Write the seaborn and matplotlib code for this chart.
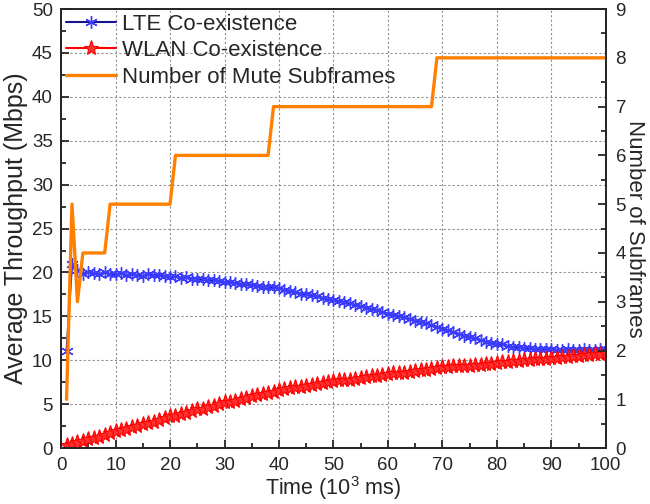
import numpy as np
import pandas as pd
import matplotlib
matplotlib.use("Agg")
import matplotlib.pyplot as plt
import seaborn as sns
from matplotlib.ticker import MultipleLocator

# Time axis (10^3 ms)
time = list(range(1, 101))

# Average throughput, LTE (Mbps)
lte = [11.0, 21.0, 20.3, 19.8, 20.1, 19.9, 19.8, 20.0, 19.8, 19.8,
       19.9, 19.7, 19.8, 19.7, 19.6, 19.8, 19.7, 19.7, 19.6, 19.5,
       19.6, 19.4, 19.5, 19.3, 19.3, 19.2, 19.1, 19.1, 19.0, 18.9,
       18.9, 18.8, 18.7, 18.7, 18.6, 18.5, 18.4, 18.4, 18.3, 18.2,
       18.0, 17.9, 17.8, 17.6, 17.5, 17.4, 17.3, 17.1, 17.0, 16.9,
       16.7, 16.6, 16.5, 16.3, 16.2, 16.0, 15.8, 15.7, 15.5, 15.3,
       15.2, 15.0, 14.9, 14.7, 14.5, 14.4, 14.2, 14.0, 13.8, 13.6,
       13.4, 13.2, 13.0, 12.8, 12.7, 12.5, 12.3, 12.1, 12.0, 11.9,
       11.8, 11.6, 11.5, 11.5, 11.4, 11.4, 11.3, 11.3, 11.3, 11.3,
       11.2, 11.2, 11.3, 11.2, 11.2, 11.3, 11.2, 11.2, 11.3, 11.3]

# Average throughput, WLAN (Mbps)
wlan = [0.3, 0.5, 0.7, 0.8, 1.0, 1.2, 1.3, 1.5, 1.7, 1.9,
        2.0, 2.2, 2.4, 2.5, 2.7, 2.9, 3.0, 3.2, 3.4, 3.6,
        3.7, 3.9, 4.0, 4.2, 4.4, 4.5, 4.7, 4.8, 5.0, 5.2,
        5.3, 5.4, 5.6, 5.7, 5.9, 6.0, 6.1, 6.3, 6.4, 6.6,
        6.7, 6.8, 6.9, 7.0, 7.1, 7.2, 7.3, 7.4, 7.5, 7.6,
        7.7, 7.8, 7.8, 7.9, 8.0, 8.1, 8.2, 8.2, 8.3, 8.4,
        8.5, 8.6, 8.6, 8.7, 8.8, 8.9, 8.9, 9.0, 9.1, 9.2,
        9.2, 9.3, 9.3, 9.4, 9.4, 9.5, 9.5, 9.6, 9.6, 9.7,
        9.8, 9.8, 9.9, 9.9, 10.0, 10.0, 10.1, 10.1, 10.2, 10.3,
        10.3, 10.4, 10.4, 10.5, 10.5, 10.6, 10.6, 10.7, 10.7, 10.8]

# Number of mute subframes
mute = [1, 5, 3, 4, 4, 4, 4, 4, 5, 5,
        5, 5, 5, 5, 5, 5, 5, 5, 5, 5,
        6, 6, 6, 6, 6, 6, 6, 6, 6, 6,
        6, 6, 6, 6, 6, 6, 6, 6, 7, 7,
        7, 7, 7, 7, 7, 7, 7, 7, 7, 7,
        7, 7, 7, 7, 7, 7, 7, 7, 7, 7,
        7, 7, 7, 7, 7, 7, 7, 7, 8, 8,
        8, 8, 8, 8, 8, 8, 8, 8, 8, 8,
        8, 8, 8, 8, 8, 8, 8, 8, 8, 8,
        8, 8, 8, 8, 8, 8, 8, 8, 8, 8]

df = pd.DataFrame({"time": time, "lte": lte, "wlan": wlan, "mute": mute})

sns.set_style("ticks")
plt.rcParams['font.family'] = ['Liberation Sans', 'DejaVu Sans']
plt.rcParams['mathtext.fontset'] = 'custom'
plt.rcParams['mathtext.rm'] = 'Liberation Sans'
TICK_FS = 13.5
LABEL_FS = 18
XLABEL_FS = 15.5
RLABEL_FS = 16
LEG_FS = 16

fig = plt.figure(figsize=(6.5, 5.04), dpi=100)
ax = fig.add_axes([0.094, 0.111, 0.838, 0.871])

sns.lineplot(data=df, x="time", y="lte", ax=ax, color="#14148c", lw=1.5,
             marker=(6, 2, 0), markersize=9, markeredgecolor="#3c3cff",
             markeredgewidth=1.0, label="LTE Co-existence")
sns.lineplot(data=df, x="time", y="wlan", ax=ax, color="#ff0000", lw=1.5,
             marker="*", markersize=11, markeredgecolor="#ff0000",
             markerfacecolor="#ff3030", markeredgewidth=0.8,
             label="WLAN Co-existence")

ax.set_xlim(0, 100)
ax.set_ylim(0, 50)
ax.xaxis.set_major_locator(MultipleLocator(10))
ax.xaxis.set_minor_locator(MultipleLocator(5))
ax.yaxis.set_major_locator(MultipleLocator(5))
ax.yaxis.set_minor_locator(MultipleLocator(2.5))
ax.grid(True, which="major", color="#909090", ls=(0, (2, 2)), lw=0.8)
ax.set_xlabel("Time (10$^3$ ms)", fontsize=XLABEL_FS, labelpad=0)
ax.set_ylabel("Average Throughput (Mbps)", fontsize=LABEL_FS, labelpad=3)
ax.tick_params(which="both", direction="in", labelsize=TICK_FS, width=1.3)
ax.tick_params(axis="x", pad=6.5)
ax.tick_params(axis="y", pad=6)
ax.tick_params(which="major", length=6)
ax.tick_params(which="minor", length=3.5)

ax2 = ax.twinx()
sns.lineplot(data=df, x="time", y="mute", ax=ax2, color="#ff8000", lw=2.4,
             label="Number of Mute Subframes")
ax2.set_ylim(0, 9)
ax2.yaxis.set_major_locator(MultipleLocator(1))
ax2.yaxis.set_minor_locator(MultipleLocator(0.5))
ax2.set_ylabel("Number of Subframes", fontsize=RLABEL_FS, rotation=270,
               labelpad=14)
ax2.tick_params(which="both", direction="in", labelsize=TICK_FS, width=1.3,
                pad=7)
ax2.tick_params(which="major", length=6)
ax2.tick_params(which="minor", length=3.5)

for a in (ax, ax2):
    for s in a.spines.values():
        s.set_linewidth(1.3)

h1, l1 = ax.get_legend_handles_labels()
h2, l2 = ax2.get_legend_handles_labels()
ax.get_legend().remove()
ax2.get_legend().remove()
ax2.legend(h1 + h2, l1 + l2, loc="upper left", frameon=False, fontsize=LEG_FS,
           handlelength=2.25, handletextpad=0.3, labelspacing=0.25,
           borderaxespad=0.15, borderpad=0.05)

fig.savefig("out.png", dpi=100)
